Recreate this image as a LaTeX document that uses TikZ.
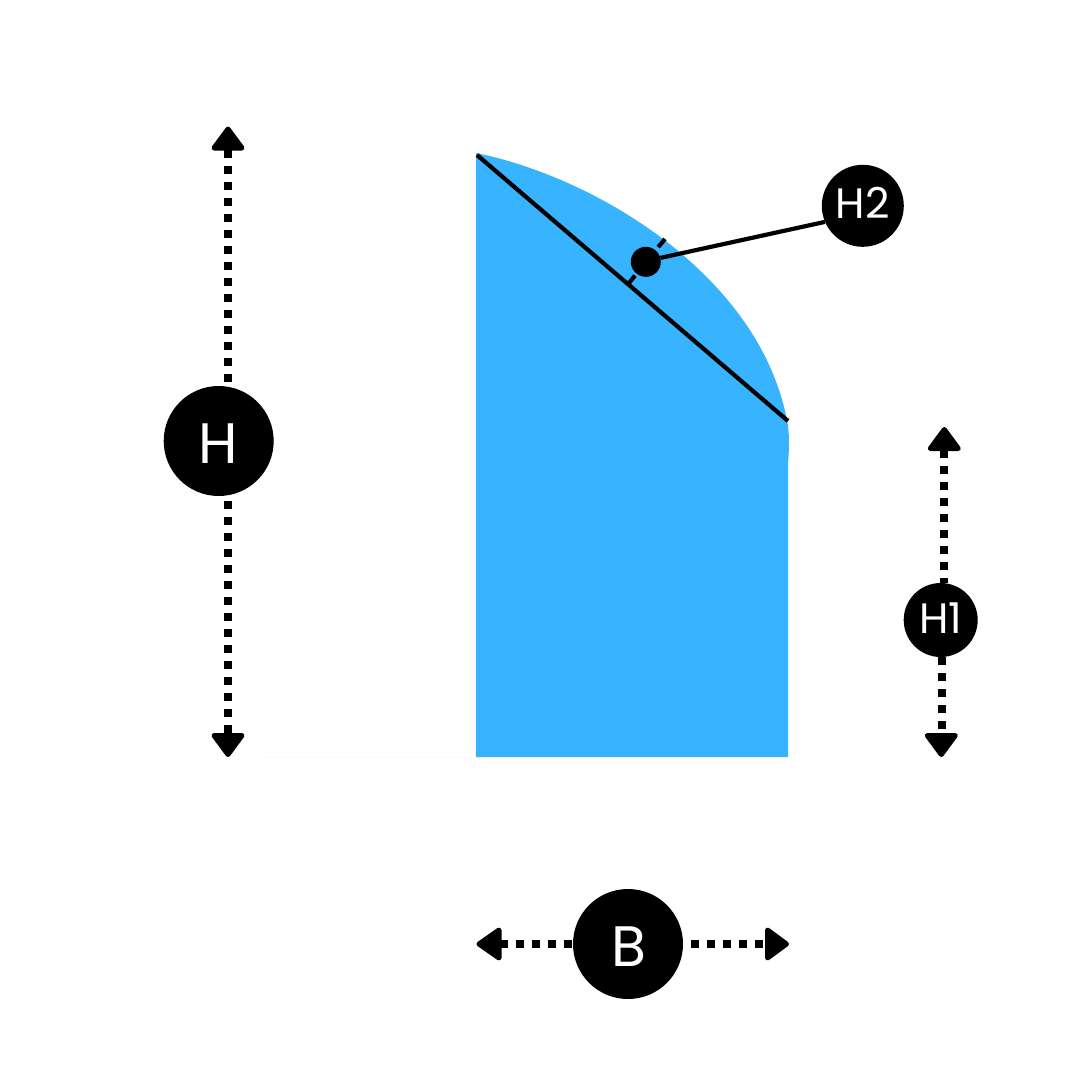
\documentclass[tikz,border=0pt]{standalone}
\usepackage{fontspec}
\setmainfont{Poppins}
\begin{document}
\begin{tikzpicture}[x=1pt,y=-1pt,
  badge/.style={circle,fill=black,text=white,inner sep=0pt,minimum size=#1},
  bigtext/.style={font=\fontsize{57}{57}\selectfont,text height=44pt,text depth=0pt},
  smalltext/.style={font=\fontsize{42.5}{42.5}\selectfont,text height=30pt,text depth=4pt},
  dots/.style={line width=8pt,dash pattern=on 8pt off 8pt},
  head/.style={fill=black,draw=black,line width=5pt,line join=round},
  thin line/.style={line width=4.2pt}]
\definecolor{skyblue}{HTML}{38B3FF}
\useasboundingbox (0,0) rectangle (1080,1080);
\fill[white] (0,0) rectangle (1080,1080);
% shape
\fill[skyblue] (476,153) .. controls (545,167) and (620,203) .. (677,250)
  .. controls (725,290) and (772,345) .. (787,420)
  .. controls (790,435) and (789,450) .. (788,465) -- (788,757) -- (476,757) -- cycle;
\draw[line width=1pt,black!2] (265,757.5) -- (476,757.5);
% nodes
\node[badge=110pt,bigtext] (H) at (218.7,441) {H};
\node[badge=110pt,bigtext] (B) at (628,944) {\hspace{2pt}B};
\node[badge=74pt,smalltext] (H1) at (940.7,620) {H1\hspace{5pt}};
\node[badge=82pt,smalltext] (H2) at (862.8,205.8) {H2};
\node[circle,fill=black,inner sep=0pt,minimum size=30pt] (dot) at (645.8,261.8) {};
% chord and offset
\coordinate (chordA) at (477,155);
\coordinate (chordB) at (788,421);
\draw[thin line] (chordA) -- (chordB);
\coordinate (tickA) at (665,239);
\coordinate (tickB) at (628.3,284);
\draw[thin line,shorten >=4pt] (tickA) -- (dot);
\draw[thin line,shorten >=2.3pt] (tickB) -- (dot);
\draw[thin line] (dot.15) -- (H2.203);
% H arrows
\coordinate (Ht) at (228,150);
\coordinate (Hb) at (228,733);
\coordinate (Hth) at (228,148);
\coordinate (Hbh) at (228,735.5);
\draw[dots] (Ht) -- (Ht |- H.north);
\draw[dots] (Hb) -- (Hb |- H.south);
\filldraw[head] (Hth)+(0,-19) -- +(-14,0) -- +(14,0) -- cycle;
\filldraw[head] (Hbh)+(0,19) -- +(-14,0) -- +(14,0) -- cycle;
% H1 arrows
\coordinate (Ot) at (944.3,450);
\coordinate (Ob) at (941.8,729);
\coordinate (Oth) at (944.3,448.5);
\coordinate (Obh) at (941.3,735.5);
\draw[dots] (Ot) -- (Ot |- H1.north);
\draw[dots] (Ob) -- (Ob |- H1.south);
\filldraw[head] (Oth)+(0,-19) -- +(-14,0) -- +(14,0) -- cycle;
\filldraw[head] (Obh)+(0,19) -- +(-14,0) -- +(14,0) -- cycle;
% B arrows
\coordinate (Bl) at (499.5,944);
\coordinate (Br) at (763,944);
\coordinate (Blh) at (499,944);
\coordinate (Brh) at (767.5,944);
\draw[dots] (Bl) -- (B.west);
\draw[dots] (Br) -- (B.east);
\filldraw[head] (Blh)+(-20,0) -- +(0,-14) -- +(0,14) -- cycle;
\filldraw[head] (Brh)+(19,0) -- +(0,-14) -- +(0,14) -- cycle;
\end{tikzpicture}
\end{document}
